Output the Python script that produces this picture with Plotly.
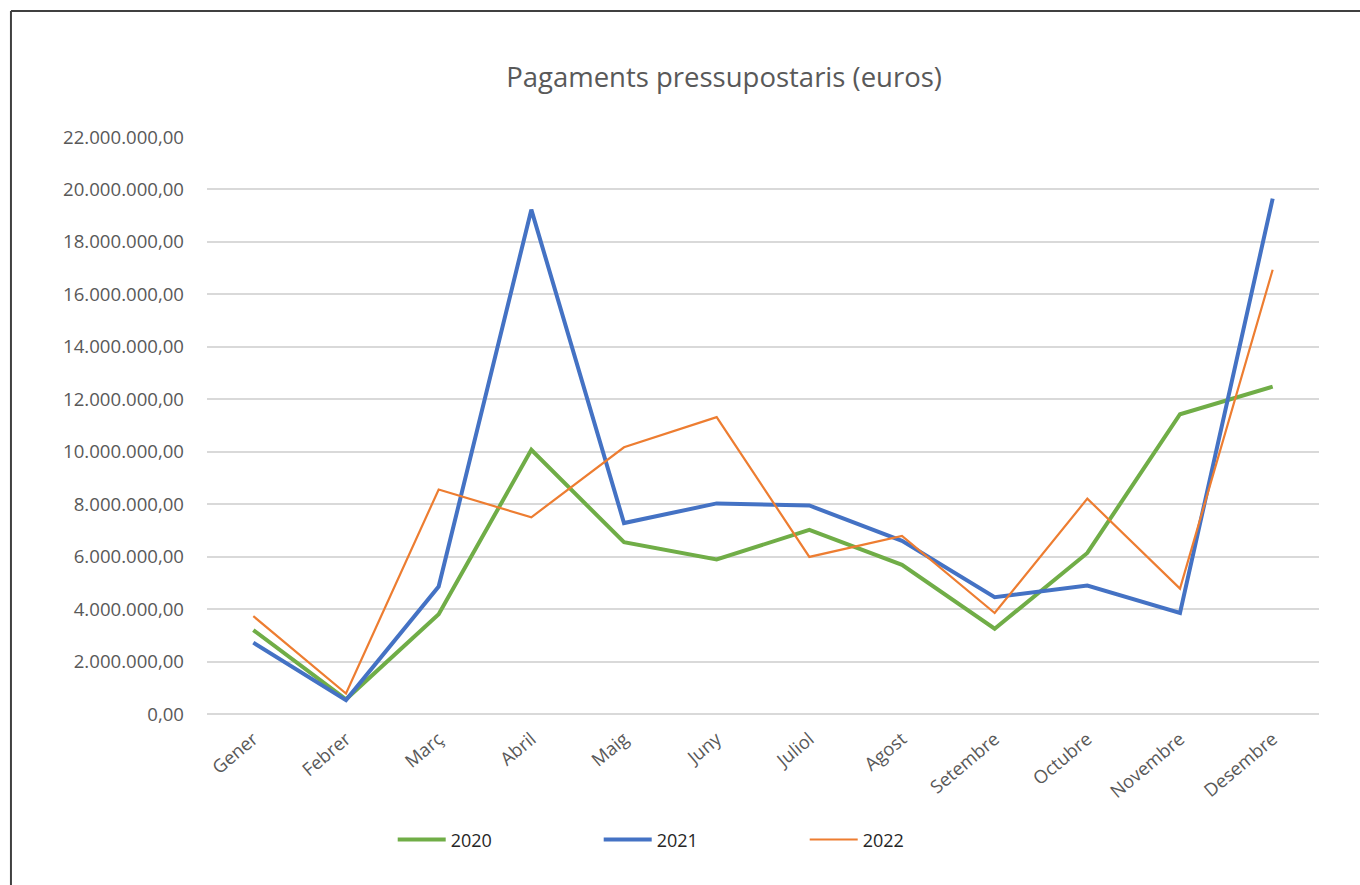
import plotly.graph_objects as go

months = ["Gener", "Febrer", "Març", "Abril", "Maig", "Juny", "Juliol",
          "Agost", "Setembre", "Octubre", "Novembre", "Desembre"]

pag_2020 = [3200000, 560000, 3800000, 10070000, 6550000, 5890000, 7020000,
            5690000, 3250000, 6140000, 11430000, 12480000]
pag_2021 = [2720000, 530000, 4860000, 19230000, 7280000, 8030000, 7950000,
            6600000, 4450000, 4900000, 3850000, 19650000]
pag_2022 = [3730000, 780000, 8560000, 7500000, 10170000, 11320000, 5990000,
            6790000, 3850000, 8210000, 4780000, 16940000]

y_tickvals = [0, 2000000, 4000000, 6000000, 8000000, 10000000, 12000000,
              14000000, 16000000, 18000000, 20000000, 22000000]
y_ticktext = ["0,00", "2.000.000,00", "4.000.000,00", "6.000.000,00",
              "8.000.000,00", "10.000.000,00", "12.000.000,00", "14.000.000,00",
              "16.000.000,00", "18.000.000,00", "20.000.000,00", "22.000.000,00"]

series = [
    ("2020", pag_2020, "#70AD47", 4),
    ("2021", pag_2021, "#4472C4", 4),
    ("2022", pag_2022, "#ED7D31", 2.2),
]

fig = go.Figure()
for name, vals, color, width in series:
    fig.add_trace(go.Scatter(
        x=months, y=vals, name=name, mode="lines",
        line=dict(color=color, width=width, shape="linear"),
    ))

FONT = "Open Sans"
BORDER = "#404040"
fig.update_layout(
    width=1360, height=885,
    margin=dict(l=207, r=41, t=137, b=171),
    paper_bgcolor="white", plot_bgcolor="white",
    font=dict(family=FONT, color="#595959"),
    title=dict(text="Pagaments pressupostaris (euros)", x=0.5324, y=0.913,
               xref="container", yref="container", xanchor="center", yanchor="middle",
               font=dict(family=FONT, size=27.5, color="#595959")),
    xaxis=dict(showgrid=False, showline=False, zeroline=False, tickangle=-40,
               range=[-0.5, 11.5], ticklabelstandoff=10,
               tickfont=dict(family=FONT, size=18.3, color="#595959"), ticks=""),
    yaxis=dict(range=[0, 22000000], tickvals=y_tickvals, ticktext=y_ticktext,
               showgrid=True, gridcolor="#D9D9D9", gridwidth=1.5,
               zeroline=True, zerolinecolor="#D9D9D9", zerolinewidth=1.5,
               showline=False, ticks="", ticklabelstandoff=22,
               tickfont=dict(family=FONT, size=18.6, color="#595959")),
    legend=dict(orientation="h", x=0.167, xanchor="left", y=-0.218, yanchor="middle",
                font=dict(family=FONT, size=18, color="#262626"),
                entrywidth=143, entrywidthmode="pixels", itemwidth=48,
                bgcolor="rgba(0,0,0,0)"),
    showlegend=True,
    shapes=[
        # top edge of the frame
        dict(type="line", xref="paper", yref="paper",
             x0=-0.1763, x1=1.1, y0=1.2184, y1=1.2184,
             line=dict(color=BORDER, width=2), layer="below"),
        # left edge of the frame
        dict(type="line", xref="paper", yref="paper",
             x0=-0.1763, x1=-0.1763, y0=-0.4, y1=1.2184,
             line=dict(color=BORDER, width=2), layer="below"),
    ],
)

fig.write_html("out.html",
               config={"displayModeBar": False},
               post_script="document.body.style.margin='0';document.body.style.overflow='hidden';")
